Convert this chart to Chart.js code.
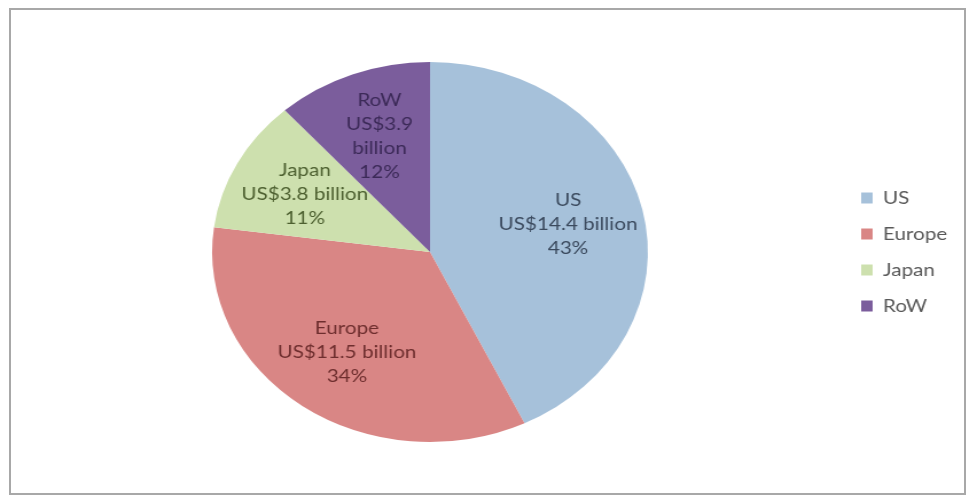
<!DOCTYPE html>
<html>
<head>
<meta charset="utf-8">
<title>Revenue by region</title>
<script src="https://cdn.jsdelivr.net/npm/chart.js@4.4.0/dist/chart.umd.min.js"></script>
<style>
  html, body { margin: 0; padding: 0; background: #fff; }
  #wrap { position: relative; width: 969px; height: 497px; overflow: hidden; }
  #frame {
    position: absolute; left: 9px; top: 8px;
    width: 953px; height: 483px;
    border: 2px solid #a8a8a8;
  }
  /* the source picture is stretched sideways, so the canvas is too */
  #regionChart {
    position: absolute; left: 0; top: 0;
    width: 845px; height: 497px;
    transform: scaleX(1.1467); transform-origin: 0 0;
  }
</style>
</head>
<body>
<div id="wrap">
  <div id="frame"></div>
  <canvas id="regionChart" width="845" height="497"></canvas>
</div>
<script>
// Data
const regions = ['US', 'Europe', 'Japan', 'RoW'];
const revenue = [14.4, 11.5, 3.8, 3.9]; // US$ billion

const sliceColors = ['#a6c1da', '#d98685', '#cde0ae', '#7b5d9c'];
const labelColors = ['#3b4a5e', '#6e2e2e', '#4d6030', '#3c2a58'];

// Labels inside the slices: name, amount, share
const sliceLabels = {
    id: 'sliceLabels',
    afterDatasetsDraw(chart) {
        const ctx = chart.ctx;
        const meta = chart.getDatasetMeta(0);
        const total = revenue.reduce((a, b) => a + b, 0);

        ctx.save();
        ctx.font = '18px Lato';
        ctx.textAlign = 'center';
        ctx.textBaseline = 'middle';

        meta.data.forEach((arc, i) => {
            const p = arc.getProps(['x', 'y', 'startAngle', 'endAngle', 'outerRadius'], true);
            const mid = (p.startAngle + p.endAngle) / 2;
            const lx = p.x + Math.cos(mid) * p.outerRadius * 0.65;
            const ly = p.y + Math.sin(mid) * p.outerRadius * 0.65;

            // how much of the label's row lies inside this slice
            let room = 0;
            for (let x = p.x - p.outerRadius; x <= p.x + p.outerRadius; x++) {
                if (arc.inRange(x, ly, true)) room++;
            }

            const money = 'US$' + revenue[i] + ' billion';
            const lines = [regions[i]];
            if (ctx.measureText(money).width > room * 0.95) {
                lines.push('US$' + revenue[i], 'billion');
            } else {
                lines.push(money);
            }
            lines.push(Math.round(revenue[i] / total * 100) + '%');

            ctx.fillStyle = labelColors[i];
            const lh = 24;
            lines.forEach((t, k) => {
                ctx.fillText(t, lx, ly + (k - (lines.length - 1) / 2) * lh);
            });
        });
        ctx.restore();
    }
};

Chart.defaults.font.family = 'Lato';

new Chart(document.getElementById('regionChart'), {
    type: 'pie',
    data: {
        labels: regions,
        datasets: [{
            data: revenue,
            backgroundColor: sliceColors,
            borderWidth: 0
        }]
    },
    options: {
        responsive: false,
        animation: false,
        layout: {
            padding: { left: 17, right: 9, top: 62, bottom: 55 }
        },
        plugins: {
            legend: {
                position: 'right',
                labels: {
                    boxWidth: 10,
                    boxHeight: 11,
                    padding: 18,
                    color: '#595959',
                    font: { family: 'Lato', size: 18 }
                }
            },
            tooltip: { enabled: false }
        }
    },
    plugins: [sliceLabels]
});
</script>
</body>
</html>
